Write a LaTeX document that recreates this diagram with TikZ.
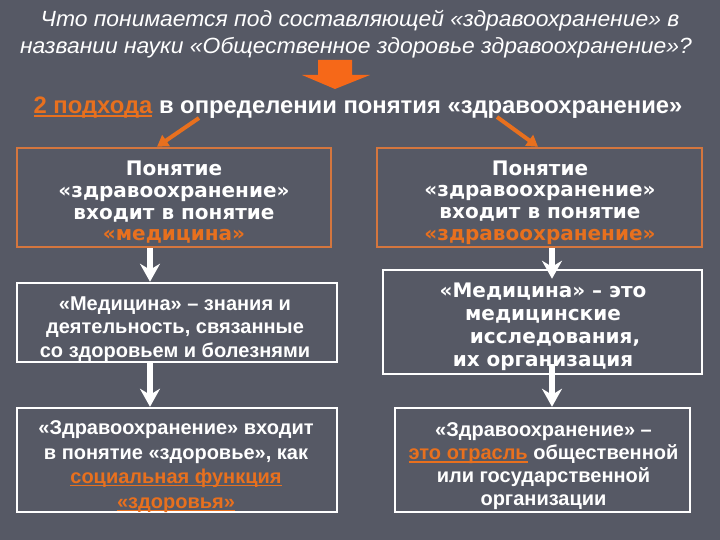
\documentclass[tikz,border=0pt]{standalone}
\usepackage{fontspec}
\setmainfont{Liberation Sans}
\newfontfamily\dvfont{DejaVu Sans}
\newfontfamily\titlefont[FakeStretch=1.04]{Liberation Sans}
\usetikzlibrary{arrows.meta}
\definecolor{bg}{RGB}{86,89,101}
\definecolor{org}{RGB}{232,112,30}
\definecolor{orgb}{RGB}{212,118,62}
\definecolor{orgf}{RGB}{246,104,24}
\newsavebox\myulbox
\newcommand{\myul}[1]{\sbox\myulbox{#1}\rlap{\rule[-2.8pt]{\wd\myulbox}{1.3pt}}\usebox\myulbox}
\begin{document}
\begin{tikzpicture}[x=1pt,y=-1pt,
  titletext/.style={text=white,font=\titlefont\fontsize{22}{24}\selectfont\itshape,inner sep=0pt},
  headtext/.style={text=white,font=\fontsize{23.8}{26}\selectfont\bfseries,inner sep=0pt},
  obox/.style={draw=orgb,line width=2.5pt,inner sep=0pt},
  wbox/.style={draw=white,line width=2.5pt,inner sep=0pt},
  vtext/.style={inner sep=0pt,align=center,text=white,
    font=\dvfont\bfseries\fontsize{20}{21.7}\selectfont},
  atext/.style={inner sep=0pt,align=center,text=white,
    font=\bfseries\fontsize{20}{23.5}\selectfont},
  warrow/.style={draw=white,line width=6pt,-{Stealth[length=18pt,width=20pt,inset=6pt]}},
  oarrow/.style={draw=org,line width=4pt,-{Triangle[length=11pt,width=13pt]}},
]
\fill[bg] (0,0) rectangle (720,540);
\useasboundingbox (0,0) rectangle (720,540);

% title
\node[titletext] (t1) at (360,21) {Что понимается под составляющей «здравоохранение» в};
\node[titletext] (t2) at (356,48) {названии науки «Общественное здоровье здравоохранение»?};

% orange block arrow
\fill[orgf] (318,60) -- (352,60) -- (352,75) -- (370,75) -- (335,89) -- (302,75) -- (318,75) -- cycle;

% headline
\node[headtext] (h) at (358,108) {\textcolor{org}{\myul{2 подхода}} в определении понятия «здравоохранение»};

% boxes
\node[obox,minimum width=314pt,minimum height=99pt] (L1) at (174,197.5) {};
\node[obox,minimum width=325pt,minimum height=99pt] (R1) at (539.5,197.5) {};
\node[wbox,minimum width=320pt,minimum height=79pt] (L2) at (177,322.5) {};
\node[wbox,minimum width=320pt,minimum height=104pt] (L3) at (177,460) {};
\node[wbox,minimum width=319pt,minimum height=104pt] (R2) at (542.5,322) {};
\node[wbox,minimum width=295pt,minimum height=104pt] (R3) at (542.5,460) {};

% texts
\node[vtext] (L1t) at (174,202.5)
  {Понятие\\«здравоохранение»\\входит в понятие\\\textcolor{org}{«медицина»}};
\node[vtext] (R1t) at (540,202.5)
  {Понятие\\«здравоохранение»\\входит в понятие\\\textcolor{org}{«здравоохранение»}};
\node[atext] (L2t) at (175,329)
  {«Медицина» – знания и\\деятельность, связанные\\со здоровьем и болезнями};
\node[atext,font=\bfseries\fontsize{20}{24.5}\selectfont] (L3t) at (176,466.5)
  {«Здравоохранение» входит\\в понятие «здоровье», как\\\textcolor{org}{\myul{социальная функция}}\\\textcolor{org}{\myul{«здоровья»}}};
\node[vtext,font=\dvfont\bfseries\fontsize{20}{23}\selectfont] (R2t) at (543,326.5)
  {«Медицина» – это\\медицинские\\\hspace*{24pt}исследования,\\их организация};
\node[atext,font=\bfseries\fontsize{20}{23}\selectfont] (R3t) at (543.5,466.5)
  {«Здравоохранение» –\\\textcolor{org}{\myul{это отрасль}} общественной\\или государственной\\организации};

% connectors
\coordinate (xl) at (150,0);
\coordinate (xr) at (552,0);
\coordinate (dl) at (157,0);
\coordinate (dr) at (538,0);
\coordinate (ls) at (199,118);
\coordinate (rs) at (497,117);
\draw[oarrow] (ls) -- (L1.north -| dl);
\draw[oarrow] (rs) -- (R1.north -| dr);
\draw[warrow] (L1.south -| xl) -- (L2.north -| xl);
\draw[warrow] (L2.south -| xl) -- (L3.north -| xl);
\draw[warrow,shorten >=-10pt] (R1.south -| xr) -- (R2.north -| xr);
\draw[warrow,shorten <=-11pt] (R2.south -| xr) -- (R3.north -| xr);
\end{tikzpicture}
\end{document}
